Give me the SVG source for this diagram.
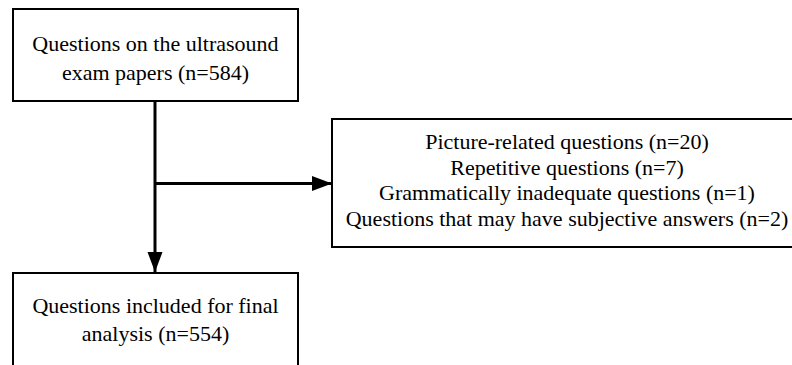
<svg xmlns="http://www.w3.org/2000/svg" width="792" height="365" viewBox="0 0 792 365">
<style>
.box{fill:#fff;stroke:#000;stroke-width:2}
.t{font-family:'Liberation Serif','Times New Roman',serif;font-size:22px;fill:#000;text-anchor:middle}
.c{stroke:#000;stroke-width:3;fill:none}
</style>
<defs>
<marker id="ah" markerUnits="userSpaceOnUse" markerWidth="20" markerHeight="16" refX="20" refY="7.5" orient="auto">
<path d="M0,0 L20,7.5 L0,15 Z" fill="#000"/>
</marker>
</defs>
<rect width="792" height="365" fill="#fff"/>
<g id="connectors">
<line class="c" x1="155" y1="101" x2="155" y2="272" marker-end="url(#ah)"/>
<line class="c" x1="155" y1="183.5" x2="332" y2="183.5" marker-end="url(#ah)"/>
</g>
<g id="node1">
<rect class="box" x="13" y="9" width="285" height="92"/>
<text class="t" x="155.5" y="51">Questions on the ultrasound</text>
<text class="t" x="155.5" y="80">exam papers (n=584)</text>
</g>
<g id="node2">
<rect class="box" x="332" y="119" width="480" height="128"/>
<text class="t" x="567" y="149">Picture-related questions (n=20)</text>
<text class="t" x="567" y="174.5">Repetitive questions (n=7)</text>
<text class="t" x="567" y="200">Grammatically inadequate questions (n=1)</text>
<text class="t" x="567" y="225.5">Questions that may have subjective answers (n=2)</text>
</g>
<g id="node3">
<rect class="box" x="13" y="273" width="285" height="110"/>
<text class="t" x="155.5" y="313">Questions included for final</text>
<text class="t" x="155.5" y="341">analysis (n=554)</text>
</g>
</svg>
